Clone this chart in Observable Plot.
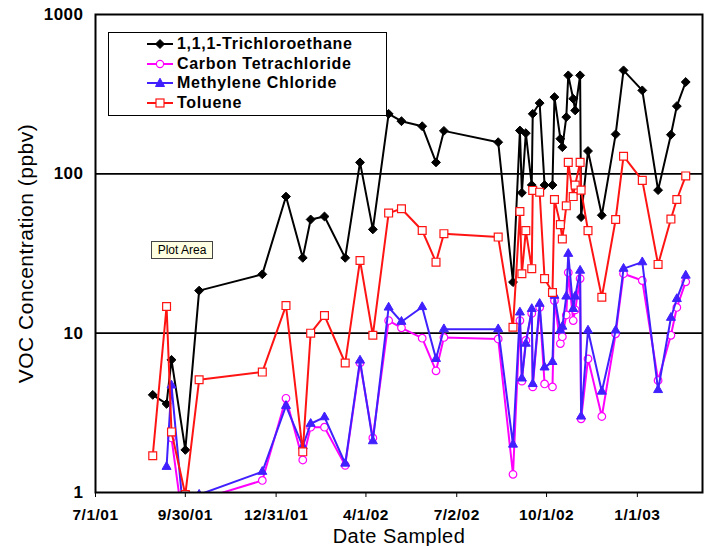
<!DOCTYPE html>
<html>
<head>
<meta charset="utf-8">
<script src="https://cdn.jsdelivr.net/npm/d3@7"></script>
<script src="https://cdn.jsdelivr.net/npm/@observablehq/plot@0.6"></script>
<style>
  html, body { margin: 0; padding: 0; background: #fff; }
  #wrap { position: relative; width: 704px; height: 546px; overflow: hidden; font-family: "Liberation Sans", Arial, sans-serif; }
  #legend { position: absolute; left: 108px; top: 32px; width: 279px; height: 84px; box-sizing: border-box; border: 1px solid #000; background: #fff; }
  .lrow { position: absolute; left: 0; height: 20px; width: 100%; }
  .lrow svg { position: absolute; left: 38px; top: 4px; }
  .lrow span { position: absolute; left: 68px; top: 0; font: bold 16px "Liberation Sans", Arial, sans-serif; letter-spacing: 0.7px; line-height: 20px; color: #000; white-space: nowrap; }
  #tip { position: absolute; left: 151px; top: 241px; width: 62px; height: 18px; box-sizing: border-box; border: 1px solid #444; background: #ffffe1; font: 12px "Liberation Sans", Arial, sans-serif; line-height: 16px; text-align: center; color: #000; }
</style>
</head>
<body>
<div id="wrap"></div>
<script>
// ---- data ----
const dates = [
  "2001-08-28","2001-09-11","2001-09-16","2001-09-30","2001-10-14","2001-12-17","2002-01-10","2002-01-27",
  "2002-02-04","2002-02-18","2002-03-11","2002-03-26","2002-04-08","2002-04-24","2002-05-07","2002-05-28",
  "2002-06-11","2002-06-19","2002-08-13","2002-08-28","2002-09-04","2002-09-06","2002-09-10","2002-09-16",
  "2002-09-17","2002-09-24","2002-09-29","2002-10-07","2002-10-09","2002-10-15","2002-10-17","2002-10-21",
  "2002-10-23","2002-10-28","2002-10-30","2002-11-04","2002-11-05","2002-11-12","2002-11-26","2002-12-10",
  "2002-12-18","2003-01-06","2003-01-22","2003-02-04","2003-02-10","2003-02-19"
];
const trichloroethane = [
  4.1, 3.6, 6.8, 1.85, 18.5, 23.4, 72, 29.7,
  51.7, 54, 29.7, 118, 44.8, 238, 214, 199,
  118, 186, 158, 20.9, 187, 76, 180, 85,
  238, 278, 85, 85, 303, 166, 147, 227,
  415, 296, 250, 415, 53.5, 139, 55, 177,
  446, 334, 79, 176, 266, 377
];
const carbonTetrachloride = [
  null, null, 2.2, 0.5, 0.9, 1.19, 3.9, 1.6,
  2.57, 2.57, 1.48, 6.5, 2.2, 12, 10.8, 9.3,
  5.8, 9.4, 9.2, 1.3, 12, 5.0, 9, 13.3,
  4.6, 14.5, 4.8, 4.6, 16, 8.6, 9.5, 13,
  24, 12, 14, 22, 2.9, 6.9, 3.0, 9.9,
  23.6, 21.4, 5.05, 9.7, 14.5, 21
];
const methyleneChloride = [
  null, 1.45, 4.7, 0.55, 0.97, 1.35, 3.5, 1.95,
  2.7, 2.97, 1.52, 6.74, 2.1, 14.5, 11.8, 14.6,
  6.9, 10.6, 10.6, 2.0, 13.5, 5.2, 8.6, 14.2,
  4.8, 15.3, 6.1, 6.6, 17.2, 10.4, 11, 17,
  31.5, 14.2, 17, 24.7, 3.0, 10.4, 4.3, 10.4,
  25.4, 27.9, 4.4, 12.5, 16.4, 23
];
const toluene = [
  1.7, 14.7, 2.4, 0.97, 5.1, 5.7, 14.9, 1.8,
  10, 12.9, 6.5, 28.6, 9.7, 56.7, 60.4, 44.1,
  27.9, 42.1, 40.1, 10.9, 58, 23.6, 44, 25.4,
  78.7, 76.7, 22, 18, 69, 48, 39, 63,
  118, 72, 85, 118, 79, 44, 16.8, 51.7,
  129, 91, 27, 52, 69, 97
];
const seriesNames = ["1,1,1-Trichloroethane", "Carbon Tetrachloride", "Methylene Chloride", "Toluene"];
const xTickDates = ["2001-07-01","2001-09-30","2001-12-31","2002-04-01","2002-07-02","2002-10-01","2003-01-01"];
const xTickLabels = ["7/1/01","9/30/01","12/31/01","4/1/02","7/2/02","10/1/02","1/1/03"];
const yTicks = [1, 10, 100, 1000];
const yTickLabels = ["1", "10", "100", "1000"];
const xDomain = ["2001-07-01", "2003-03-08"];
const yTitle = "VOC Concentration (ppbv)";
const xTitle = "Date Sampled";

// ---- styles ----
const styles = [
  {stroke: "#000000", fill: "#000000", symbol: "diamond2", r: 4.0, sw: 1},
  {stroke: "#ff00ff", fill: "#ffffff", symbol: "circle", r: 3.8, sw: 1.2},
  {stroke: "#4020ff", fill: "#4020ff", symbol: "triangle2", r: 4.3, sw: 1},
  {stroke: "#ff1414", fill: "#ffffff", symbol: "square2", r: 5.0, sw: 1.2}
];
const seriesValues = [trichloroethane, carbonTetrachloride, methyleneChloride, toluene];

const tables = seriesValues.map((vals, i) =>
  dates.map((d, j) => ({date: new Date(d), value: vals[j], series: seriesNames[i]}))
);

const marks = [
  Plot.ruleY([10, 100], {stroke: "#000", strokeWidth: 1.6})
];
tables.forEach((t, i) => {
  const s = styles[i];
  marks.push(Plot.line(t, {x: "date", y: "value", stroke: s.stroke, strokeWidth: 2, clip: true}));
  marks.push(Plot.dot(t.filter(d => d.value != null), {
    x: "date", y: "value", symbol: () => s.symbol, r: s.r,
    fill: s.fill, stroke: s.stroke, strokeWidth: s.sw, clip: true
  }));
});
marks.push(Plot.frame({stroke: "#000", strokeWidth: 2}));
marks.push(Plot.axisY({
  ticks: yTicks, tickFormat: d => yTickLabels[yTicks.indexOf(d)],
  tickSize: 0, tickPadding: 12, fontSize: 17, fontWeight: "bold", label: null
}));
marks.push(Plot.axisX({
  ticks: xTickDates.map(d => new Date(d)),
  tickFormat: d => xTickLabels[xTickDates.indexOf(d.toISOString().slice(0, 10))],
  tickSize: 5, tickPadding: 11, fontSize: 15.5, fontWeight: "bold", label: null
}));
marks.push(Plot.text([yTitle], {
  text: d => d, frameAnchor: "left", textAnchor: "middle", dx: -69, rotate: -90, fontSize: 21
}));
marks.push(Plot.text([xTitle], {
  text: d => d, frameAnchor: "bottom", textAnchor: "middle", lineAnchor: "bottom", dy: 50, fontSize: 20
}));

const chart = Plot.plot({
  width: 704,
  height: 546,
  marginLeft: 95,
  marginRight: 2,
  marginTop: 14,
  marginBottom: 54,
  style: {fontFamily: "'Liberation Sans', Arial, sans-serif", color: "#000", background: "#fff", letterSpacing: "0.5px"},
  x: {type: "utc", domain: xDomain.map(d => new Date(d))},
  y: {type: "log", domain: [1, 1000]},
  marks
});
const wrap = document.getElementById("wrap");
wrap.appendChild(chart);

// ---- legend (HTML overlay) ----
function symbolSvg(i) {
  const s = styles[i];
  let shape = "";
  if (s.symbol === "diamond2") shape = `<path d="M13,1.5 L17.5,6 L13,10.5 L8.5,6 Z" fill="${s.fill}" stroke="${s.stroke}"/>`;
  if (s.symbol === "circle") shape = `<circle cx="13" cy="6" r="3.6" fill="#fff" stroke="${s.stroke}" stroke-width="1.2"/>`;
  if (s.symbol === "triangle2") shape = `<path d="M13,1.2 L17.5,9.5 L8.5,9.5 Z" fill="${s.fill}" stroke="${s.stroke}"/>`;
  if (s.symbol === "square2") shape = `<rect x="9" y="2" width="8" height="8" fill="#fff" stroke="${s.stroke}" stroke-width="1.2"/>`;
  return `<svg width="27" height="12"><line x1="0" x2="26" y1="6" y2="6" stroke="${s.stroke}" stroke-width="2"/>${shape}</svg>`;
}
const legend = document.createElement("div");
legend.id = "legend";
seriesNames.forEach((name, i) => {
  const row = document.createElement("div");
  row.className = "lrow";
  row.style.top = (1 + i * 19.6) + "px";
  row.innerHTML = symbolSvg(i) + `<span>${name}</span>`;
  legend.appendChild(row);
});
wrap.appendChild(legend);

const tip = document.createElement("div");
tip.id = "tip";
tip.textContent = "Plot Area";
wrap.appendChild(tip);
</script>
</body>
</html>
